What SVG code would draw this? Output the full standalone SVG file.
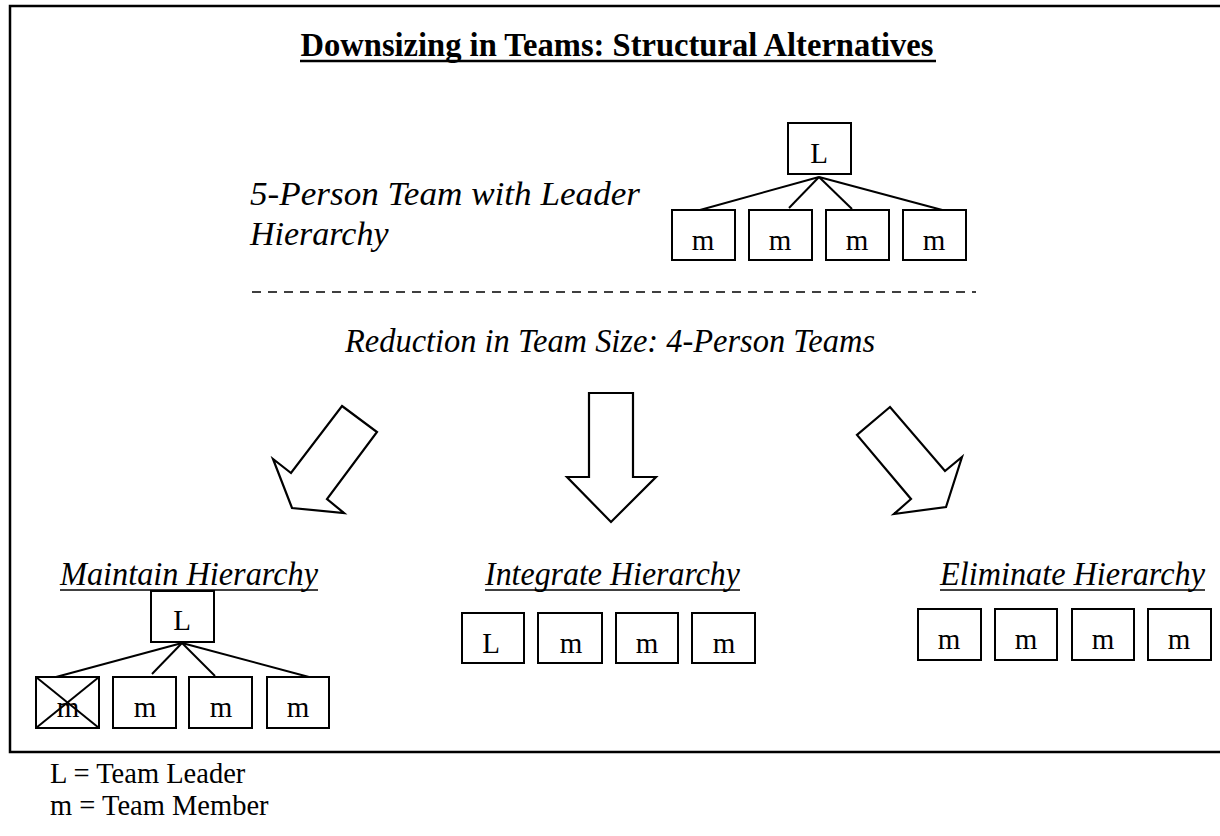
<svg xmlns="http://www.w3.org/2000/svg" width="1220" height="836" viewBox="0 0 1220 836">
<style>
.box{fill:#fff;stroke:#000;stroke-width:2}
.ln{stroke:#000;stroke-width:2;fill:none}
.arr{fill:#fff;stroke:#000;stroke-width:2.2;stroke-linejoin:miter}
text{font-family:'Liberation Serif',Tinos,'Times New Roman',Times,serif;fill:#000}
.bx{font-size:29px;text-anchor:middle}
.it{font-style:italic;font-size:34px}
.lg{font-size:28.5px}
</style>
<rect x="10" y="6" width="1230" height="746" fill="#fff" stroke="#000" stroke-width="2.5"/>
<text x="617" y="56" font-size="33" font-weight="bold" text-anchor="middle" textLength="633" lengthAdjust="spacingAndGlyphs">Downsizing in Teams:  Structural Alternatives</text>
<line x1="300" y1="61" x2="936" y2="61" stroke="#000" stroke-width="2.5"/>

<text class="it" x="250" y="205" textLength="390" lengthAdjust="spacingAndGlyphs">5-Person Team with Leader</text>
<text class="it" x="250" y="245">Hierarchy</text>

<g id="connectors">
<line class="ln" x1="819" y1="177" x2="700" y2="210"/>
<line class="ln" x1="819" y1="177" x2="789" y2="208"/>
<line class="ln" x1="819" y1="177" x2="852" y2="209"/>
<line class="ln" x1="819" y1="177" x2="946" y2="211"/>
<line class="ln" x1="182" y1="643" x2="56" y2="677"/>
<line class="ln" x1="182" y1="643" x2="152" y2="674"/>
<line class="ln" x1="182" y1="643" x2="215" y2="676"/>
<line class="ln" x1="182" y1="643" x2="309" y2="677"/>
</g>

<g id="top-L"><rect class="box" x="788" y="123" width="63" height="51"/><text class="bx" x="819" y="163">L</text></g>
<g id="top-m1"><rect class="box" x="672" y="210" width="63" height="50"/><text class="bx" x="703" y="250">m</text></g>
<g id="top-m2"><rect class="box" x="749" y="210" width="63" height="50"/><text class="bx" x="780" y="250">m</text></g>
<g id="top-m3"><rect class="box" x="826" y="210" width="63" height="50"/><text class="bx" x="857" y="250">m</text></g>
<g id="top-m4"><rect class="box" x="903" y="210" width="63" height="50"/><text class="bx" x="934" y="250">m</text></g>

<line x1="252" y1="292" x2="976" y2="292" stroke="#000" stroke-width="1.6" stroke-dasharray="9,7"/>

<text class="it" x="345" y="352" font-size="34" textLength="530" lengthAdjust="spacingAndGlyphs">Reduction in Team Size: 4-Person Teams</text>

<g id="arrow-left"><polygon class="arr" points="342,406 377,432 327,499 344,513 292,508 273,459 291,473"/></g>
<g id="arrow-down"><polygon class="arr" points="589,393 633,393 633,477 656,477 611,522 567,477 589,477"/></g>
<g id="arrow-right"><polygon class="arr" points="890,407 857,435 911,499 894,514 946,507 962,457 945,471"/></g>

<text class="it" x="60" y="585" font-size="32" textLength="258" lengthAdjust="spacingAndGlyphs">Maintain Hierarchy</text>
<line x1="60" y1="590" x2="318" y2="590" stroke="#000" stroke-width="1.5"/>
<text class="it" x="485" y="585" font-size="32" textLength="255" lengthAdjust="spacingAndGlyphs">Integrate Hierarchy</text>
<line x1="485" y1="590" x2="740" y2="590" stroke="#000" stroke-width="1.5"/>
<text class="it" x="940" y="585" font-size="32" textLength="265" lengthAdjust="spacingAndGlyphs">Eliminate Hierarchy</text>
<line x1="940" y1="590" x2="1205" y2="590" stroke="#000" stroke-width="1.5"/>

<g id="maint-L"><rect class="box" x="151" y="591" width="63" height="51"/><text class="bx" x="182" y="630">L</text></g>
<g id="maint-m1"><rect class="box" x="36" y="677" width="63" height="51"/><text class="bx" x="68" y="717">m</text><line class="ln" x1="36" y1="677" x2="99" y2="728"/><line class="ln" x1="36" y1="728" x2="99" y2="677"/></g>
<g id="maint-m2"><rect class="box" x="113" y="677" width="63" height="51"/><text class="bx" x="145" y="717">m</text></g>
<g id="maint-m3"><rect class="box" x="189" y="677" width="63" height="51"/><text class="bx" x="221" y="717">m</text></g>
<g id="maint-m4"><rect class="box" x="267" y="677" width="62" height="51"/><text class="bx" x="298" y="717">m</text></g>

<g id="integ-L"><rect class="box" x="462" y="613" width="62" height="50"/><text class="bx" x="491" y="653">L</text></g>
<g id="integ-m1"><rect class="box" x="538" y="613" width="64" height="50"/><text class="bx" x="571" y="653">m</text></g>
<g id="integ-m2"><rect class="box" x="616" y="613" width="62" height="50"/><text class="bx" x="647" y="653">m</text></g>
<g id="integ-m3"><rect class="box" x="692" y="613" width="63" height="50"/><text class="bx" x="724" y="653">m</text></g>

<g id="elim-m1"><rect class="box" x="918" y="609" width="63" height="51"/><text class="bx" x="949" y="649">m</text></g>
<g id="elim-m2"><rect class="box" x="995" y="609" width="62" height="51"/><text class="bx" x="1026" y="649">m</text></g>
<g id="elim-m3"><rect class="box" x="1072" y="609" width="62" height="51"/><text class="bx" x="1103" y="649">m</text></g>
<g id="elim-m4"><rect class="box" x="1148" y="609" width="63" height="51"/><text class="bx" x="1179" y="649">m</text></g>

<text class="lg" x="50" y="783">L = Team Leader</text>
<text class="lg" x="50" y="815">m = Team Member</text>
</svg>
